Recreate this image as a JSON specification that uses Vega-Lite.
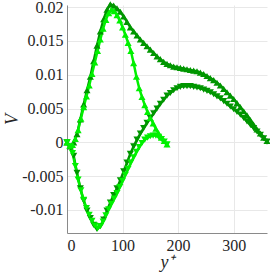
{
  "$schema": "https://vega.github.io/schema/vega-lite/v6.json",
  "width": 200,
  "height": 228,
  "autosize": {"type": "none"},
  "padding": {"left": 67, "top": 5, "right": 3, "bottom": 44},
  "background": "white",
  "config": {
    "view": {"stroke": null},
    "axis": {
      "labelFont": "Liberation Serif",
      "titleFont": "Liberation Serif",
      "labelFontSize": 16,
      "labelColor": "#262626",
      "titleFontSize": 18,
      "titleFontStyle": "italic",
      "titleFontWeight": "normal",
      "titleColor": "#262626",
      "gridColor": "#e8e8e8",
      "gridWidth": 1,
      "domainColor": "#8a8a8a",
      "ticks": false
    }
  },
  "datasets": {
    "v": [
      {"s":"dark","b":"upper","yp":0,"V":0},{"s":"dark","b":"upper","yp":6,"V":-0.0006},{"s":"dark","b":"upper","yp":12,"V":0.0},{"s":"dark","b":"upper","yp":18,"V":0.0012},{"s":"dark","b":"upper","yp":24,"V":0.0034},{"s":"dark","b":"upper","yp":30,"V":0.0056},{"s":"dark","b":"upper","yp":36,"V":0.0077},{"s":"dark","b":"upper","yp":42,"V":0.0097},{"s":"dark","b":"upper","yp":48,"V":0.012},{"s":"dark","b":"upper","yp":54,"V":0.0143},{"s":"dark","b":"upper","yp":60,"V":0.0164},{"s":"dark","b":"upper","yp":66,"V":0.0182},{"s":"dark","b":"upper","yp":72,"V":0.0196},{"s":"dark","b":"upper","yp":78,"V":0.0204},{"s":"dark","b":"upper","yp":84,"V":0.0202},{"s":"dark","b":"upper","yp":90,"V":0.0198},{"s":"dark","b":"upper","yp":96,"V":0.0193},{"s":"dark","b":"upper","yp":102,"V":0.0186},{"s":"dark","b":"upper","yp":108,"V":0.0178},{"s":"dark","b":"upper","yp":114,"V":0.017},{"s":"dark","b":"upper","yp":120,"V":0.0164},{"s":"dark","b":"upper","yp":126,"V":0.0158},{"s":"dark","b":"upper","yp":132,"V":0.0152},{"s":"dark","b":"upper","yp":138,"V":0.0147},{"s":"dark","b":"upper","yp":144,"V":0.0142},{"s":"dark","b":"upper","yp":150,"V":0.0137},{"s":"dark","b":"upper","yp":156,"V":0.0132},{"s":"dark","b":"upper","yp":162,"V":0.0127},{"s":"dark","b":"upper","yp":168,"V":0.0123},{"s":"dark","b":"upper","yp":174,"V":0.0119},{"s":"dark","b":"upper","yp":180,"V":0.0116},{"s":"dark","b":"upper","yp":186,"V":0.0114},{"s":"dark","b":"upper","yp":192,"V":0.0112},{"s":"dark","b":"upper","yp":198,"V":0.0111},{"s":"dark","b":"upper","yp":204,"V":0.011},{"s":"dark","b":"upper","yp":210,"V":0.0109},{"s":"dark","b":"upper","yp":216,"V":0.0108},{"s":"dark","b":"upper","yp":222,"V":0.0107},{"s":"dark","b":"upper","yp":228,"V":0.0106},{"s":"dark","b":"upper","yp":234,"V":0.0105},{"s":"dark","b":"upper","yp":240,"V":0.0103},{"s":"dark","b":"upper","yp":246,"V":0.0101},{"s":"dark","b":"upper","yp":252,"V":0.0098},{"s":"dark","b":"upper","yp":258,"V":0.0095},{"s":"dark","b":"upper","yp":264,"V":0.0092},{"s":"dark","b":"upper","yp":270,"V":0.0088},{"s":"dark","b":"upper","yp":276,"V":0.0084},{"s":"dark","b":"upper","yp":282,"V":0.0079},{"s":"dark","b":"upper","yp":288,"V":0.0074},{"s":"dark","b":"upper","yp":294,"V":0.0069},{"s":"dark","b":"upper","yp":300,"V":0.0064},{"s":"dark","b":"upper","yp":306,"V":0.0058},{"s":"dark","b":"upper","yp":312,"V":0.0052},{"s":"dark","b":"upper","yp":318,"V":0.0046},{"s":"dark","b":"upper","yp":324,"V":0.004},{"s":"dark","b":"upper","yp":330,"V":0.0033},{"s":"dark","b":"upper","yp":336,"V":0.0026},{"s":"dark","b":"upper","yp":342,"V":0.0019},{"s":"dark","b":"upper","yp":348,"V":0.0013},{"s":"dark","b":"upper","yp":354,"V":0.0007},{"s":"dark","b":"upper","yp":360,"V":0.0002},
      {"s":"dark","b":"lower","yp":0,"V":0},{"s":"dark","b":"lower","yp":6,"V":-0.0007},{"s":"dark","b":"lower","yp":12,"V":-0.002},{"s":"dark","b":"lower","yp":18,"V":-0.0045},{"s":"dark","b":"lower","yp":24,"V":-0.0068},{"s":"dark","b":"lower","yp":30,"V":-0.0086},{"s":"dark","b":"lower","yp":36,"V":-0.0101},{"s":"dark","b":"lower","yp":42,"V":-0.0112},{"s":"dark","b":"lower","yp":48,"V":-0.0122},{"s":"dark","b":"lower","yp":54,"V":-0.0128},{"s":"dark","b":"lower","yp":60,"V":-0.0124},{"s":"dark","b":"lower","yp":66,"V":-0.0114},{"s":"dark","b":"lower","yp":72,"V":-0.0101},{"s":"dark","b":"lower","yp":78,"V":-0.0089},{"s":"dark","b":"lower","yp":84,"V":-0.0078},{"s":"dark","b":"lower","yp":90,"V":-0.0068},{"s":"dark","b":"lower","yp":96,"V":-0.0056},{"s":"dark","b":"lower","yp":102,"V":-0.0043},{"s":"dark","b":"lower","yp":108,"V":-0.003},{"s":"dark","b":"lower","yp":114,"V":-0.0017},{"s":"dark","b":"lower","yp":120,"V":-0.0006},{"s":"dark","b":"lower","yp":126,"V":0.0004},{"s":"dark","b":"lower","yp":132,"V":0.0013},{"s":"dark","b":"lower","yp":138,"V":0.0021},{"s":"dark","b":"lower","yp":144,"V":0.0029},{"s":"dark","b":"lower","yp":150,"V":0.0036},{"s":"dark","b":"lower","yp":156,"V":0.0043},{"s":"dark","b":"lower","yp":162,"V":0.005},{"s":"dark","b":"lower","yp":168,"V":0.0057},{"s":"dark","b":"lower","yp":174,"V":0.0063},{"s":"dark","b":"lower","yp":180,"V":0.0069},{"s":"dark","b":"lower","yp":186,"V":0.0073},{"s":"dark","b":"lower","yp":192,"V":0.0077},{"s":"dark","b":"lower","yp":198,"V":0.008},{"s":"dark","b":"lower","yp":204,"V":0.0082},{"s":"dark","b":"lower","yp":210,"V":0.0083},{"s":"dark","b":"lower","yp":216,"V":0.0083},{"s":"dark","b":"lower","yp":222,"V":0.0083},{"s":"dark","b":"lower","yp":228,"V":0.0082},{"s":"dark","b":"lower","yp":234,"V":0.0081},{"s":"dark","b":"lower","yp":240,"V":0.008},{"s":"dark","b":"lower","yp":246,"V":0.0078},{"s":"dark","b":"lower","yp":252,"V":0.0076},{"s":"dark","b":"lower","yp":258,"V":0.0074},{"s":"dark","b":"lower","yp":264,"V":0.0071},{"s":"dark","b":"lower","yp":270,"V":0.0068},{"s":"dark","b":"lower","yp":276,"V":0.0065},{"s":"dark","b":"lower","yp":282,"V":0.0061},{"s":"dark","b":"lower","yp":288,"V":0.0057},{"s":"dark","b":"lower","yp":294,"V":0.0053},{"s":"dark","b":"lower","yp":300,"V":0.0049},{"s":"dark","b":"lower","yp":306,"V":0.0045},{"s":"dark","b":"lower","yp":312,"V":0.0041},{"s":"dark","b":"lower","yp":318,"V":0.0036},{"s":"dark","b":"lower","yp":324,"V":0.0031},{"s":"dark","b":"lower","yp":330,"V":0.0026},{"s":"dark","b":"lower","yp":336,"V":0.0021},{"s":"dark","b":"lower","yp":342,"V":0.0016},{"s":"dark","b":"lower","yp":348,"V":0.0011},{"s":"dark","b":"lower","yp":354,"V":0.0006},{"s":"dark","b":"lower","yp":360,"V":0.0001},
      {"s":"light","b":"upper","yp":0,"V":0},{"s":"light","b":"upper","yp":5,"V":-0.0005},{"s":"light","b":"upper","yp":10,"V":-0.0004},{"s":"light","b":"upper","yp":15,"V":0.0005},{"s":"light","b":"upper","yp":20,"V":0.0018},{"s":"light","b":"upper","yp":25,"V":0.0035},{"s":"light","b":"upper","yp":30,"V":0.0052},{"s":"light","b":"upper","yp":35,"V":0.0068},{"s":"light","b":"upper","yp":40,"V":0.0084},{"s":"light","b":"upper","yp":45,"V":0.0101},{"s":"light","b":"upper","yp":50,"V":0.0118},{"s":"light","b":"upper","yp":55,"V":0.0135},{"s":"light","b":"upper","yp":60,"V":0.0152},{"s":"light","b":"upper","yp":65,"V":0.0168},{"s":"light","b":"upper","yp":70,"V":0.0181},{"s":"light","b":"upper","yp":75,"V":0.0191},{"s":"light","b":"upper","yp":80,"V":0.0196},{"s":"light","b":"upper","yp":85,"V":0.0194},{"s":"light","b":"upper","yp":90,"V":0.0188},{"s":"light","b":"upper","yp":95,"V":0.018},{"s":"light","b":"upper","yp":100,"V":0.017},{"s":"light","b":"upper","yp":105,"V":0.0159},{"s":"light","b":"upper","yp":110,"V":0.0147},{"s":"light","b":"upper","yp":115,"V":0.0135},{"s":"light","b":"upper","yp":120,"V":0.0117},{"s":"light","b":"upper","yp":125,"V":0.0097},{"s":"light","b":"upper","yp":130,"V":0.008},{"s":"light","b":"upper","yp":135,"V":0.0067},{"s":"light","b":"upper","yp":140,"V":0.0055},{"s":"light","b":"upper","yp":145,"V":0.0045},{"s":"light","b":"upper","yp":150,"V":0.0036},{"s":"light","b":"upper","yp":155,"V":0.0028},{"s":"light","b":"upper","yp":160,"V":0.002},{"s":"light","b":"upper","yp":165,"V":0.0013},{"s":"light","b":"upper","yp":170,"V":0.0007},{"s":"light","b":"upper","yp":175,"V":0.0002},{"s":"light","b":"upper","yp":180,"V":-0.0003},
      {"s":"light","b":"lower","yp":0,"V":0},{"s":"light","b":"lower","yp":5,"V":-0.0006},{"s":"light","b":"lower","yp":10,"V":-0.0016},{"s":"light","b":"lower","yp":15,"V":-0.0035},{"s":"light","b":"lower","yp":20,"V":-0.0055},{"s":"light","b":"lower","yp":25,"V":-0.0071},{"s":"light","b":"lower","yp":30,"V":-0.0085},{"s":"light","b":"lower","yp":35,"V":-0.0097},{"s":"light","b":"lower","yp":40,"V":-0.0107},{"s":"light","b":"lower","yp":45,"V":-0.0116},{"s":"light","b":"lower","yp":50,"V":-0.0123},{"s":"light","b":"lower","yp":55,"V":-0.0127},{"s":"light","b":"lower","yp":60,"V":-0.0124},{"s":"light","b":"lower","yp":65,"V":-0.0117},{"s":"light","b":"lower","yp":70,"V":-0.0108},{"s":"light","b":"lower","yp":75,"V":-0.0099},{"s":"light","b":"lower","yp":80,"V":-0.0091},{"s":"light","b":"lower","yp":85,"V":-0.0083},{"s":"light","b":"lower","yp":90,"V":-0.0075},{"s":"light","b":"lower","yp":95,"V":-0.0066},{"s":"light","b":"lower","yp":100,"V":-0.0057},{"s":"light","b":"lower","yp":105,"V":-0.0048},{"s":"light","b":"lower","yp":110,"V":-0.0039},{"s":"light","b":"lower","yp":115,"V":-0.003},{"s":"light","b":"lower","yp":120,"V":-0.0022},{"s":"light","b":"lower","yp":125,"V":-0.0014},{"s":"light","b":"lower","yp":130,"V":-0.0007},{"s":"light","b":"lower","yp":135,"V":-0.0001},{"s":"light","b":"lower","yp":140,"V":0.0004},{"s":"light","b":"lower","yp":145,"V":0.0007},{"s":"light","b":"lower","yp":150,"V":0.0009},{"s":"light","b":"lower","yp":155,"V":0.001},{"s":"light","b":"lower","yp":160,"V":0.001},{"s":"light","b":"lower","yp":165,"V":0.0008},{"s":"light","b":"lower","yp":170,"V":0.0005},{"s":"light","b":"lower","yp":175,"V":0.0001},{"s":"light","b":"lower","yp":180,"V":-0.0003}
    ]
  },
  "data": {"name": "v"},
  "encoding": {
    "x": {
      "field": "yp", "type": "quantitative",
      "scale": {"domain": [0, 360], "nice": false, "zero": false},
      "axis": {"values": [0, 100, 200, 300], "title": "y⁺", "labelPadding": 4, "titlePadding": 0}
    },
    "y": {
      "field": "V", "type": "quantitative",
      "scale": {"domain": [-0.0134, 0.0203], "nice": false, "zero": false},
      "axis": {"values": [-0.01, -0.005, 0, 0.005, 0.01, 0.015, 0.02], "labelExpr": "toString(datum.value)", "title": "V", "labelPadding": 4, "titleX": -64, "titleY": 114, "titleBaseline": "top"}
    },
    "color": {
      "field": "s", "type": "nominal", "legend": null,
      "scale": {"domain": ["dark", "light"], "range": ["#009600", "#00f000"]}
    }
  },
  "layer": [
    {
      "mark": {"type": "line", "strokeWidth": 2.5},
      "encoding": {"detail": {"field": "b"}}
    },
    {
      "mark": {"type": "point", "filled": true, "size": 50, "opacity": 1},
      "encoding": {
        "shape": {"field": "b", "type": "nominal", "legend": null,
          "scale": {"domain": ["upper", "lower"], "range": ["triangle-up", "triangle-down"]}}
      }
    }
  ]
}
